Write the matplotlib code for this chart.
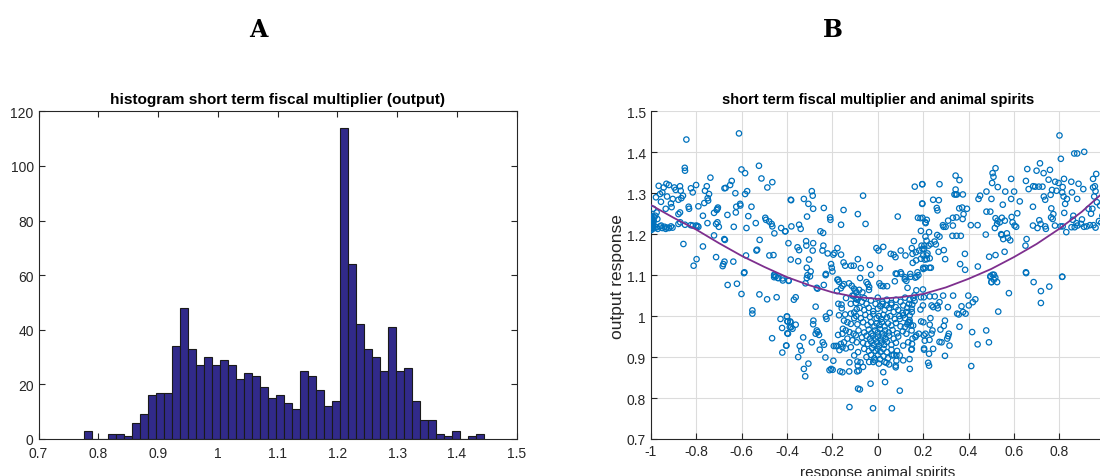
import numpy as np
import matplotlib.pyplot as plt

# histogram of the short term output multiplier (50 bins)
bin_start = 0.776
bin_width = 0.01338
counts = [3, 0, 0, 2, 2, 1, 6, 9, 16, 17, 17, 34, 48, 33, 27, 30, 27, 29, 27, 22,
          24, 23, 19, 15, 16, 13, 11, 25, 23, 18, 12, 14, 114, 64, 42, 33, 30, 25, 41, 25,
          26, 14, 7, 7, 2, 1, 3, 0, 1, 2]

# scatter: (response animal spirits, output response), read by region
pts_edge = [(-1.0, 1.210), (-1.0, 1.214), (-1.0, 1.218), (-0.998, 1.221), (-1.0, 1.224),
            (-0.997, 1.227), (-1.0, 1.230), (-0.998, 1.233), (-1.0, 1.236), (-0.996, 1.239),
            (-1.0, 1.242), (-0.998, 1.245), (-0.995, 1.212), (-0.994, 1.220), (-0.993, 1.229),
            (-0.994, 1.236), (-0.99, 1.216), (-0.99, 1.225), (-0.988, 1.232), (-0.986, 1.241),
            (-0.985, 1.215), (-0.975, 1.217), (-0.96, 1.219), (-0.95, 1.215), (-0.94, 1.218),
            (-0.93, 1.216), (-0.92, 1.215), (-0.912, 1.219), (-0.905, 1.216), (-0.97, 1.213),
            (-0.955, 1.221), (-0.935, 1.213)]
pts_left_top = [(-0.612, 1.446), (-0.844, 1.431), (-0.851, 1.362), (-0.85, 1.355), (-0.601, 1.358),
                (-0.585, 1.349), (-0.524, 1.367), (-0.738, 1.338), (-0.513, 1.336), (-0.644, 1.33),
                (-0.651, 1.32), (-0.465, 1.327), (-0.487, 1.314), (-0.966, 1.318), (-0.932, 1.323),
                (-0.921, 1.32), (-0.944, 1.314), (-0.95, 1.302), (-0.96, 1.298), (-0.897, 1.314),
                (-0.891, 1.308), (-0.872, 1.317), (-0.869, 1.306), (-0.824, 1.312), (-0.801, 1.32),
                (-0.754, 1.317), (-0.762, 1.306), (-0.676, 1.312), (-0.671, 1.313), (-0.628, 1.30),
                (-0.585, 1.298), (-0.576, 1.305), (-0.816, 1.302), (-0.978, 1.29), (-0.929, 1.292),
                (-0.956, 1.279), (-0.904, 1.286), (-0.879, 1.284), (-0.866, 1.288), (-0.859, 1.294),
                (-0.912, 1.275), (-0.909, 1.266), (-0.99, 1.262), (-0.975, 1.253), (-0.981, 1.245),
                (-0.972, 1.237), (-0.935, 1.262), (-0.879, 1.249), (-0.872, 1.253), (-0.834, 1.267),
                (-0.832, 1.262), (-0.791, 1.268), (-0.765, 1.276), (-0.75, 1.288), (-0.748, 1.282),
                (-0.744, 1.298), (-0.707, 1.262), (-0.705, 1.265), (-0.624, 1.267), (-0.607, 1.274),
                (-0.606, 1.27), (-0.557, 1.267), (-0.626, 1.253), (-0.663, 1.247), (-0.722, 1.252),
                (-0.71, 1.259), (-0.771, 1.245), (-0.751, 1.227), (-0.825, 1.222), (-0.816, 1.221),
                (-0.801, 1.221), (-0.795, 1.22), (-0.791, 1.218), (-0.85, 1.223), (-0.871, 1.229),
                (-0.879, 1.225), (-0.713, 1.225), (-0.701, 1.218), (-0.707, 1.229), (-0.635, 1.218),
                (-0.579, 1.215), (-0.571, 1.244), (-0.538, 1.227), (-0.496, 1.24), (-0.493, 1.235),
                (-0.479, 1.231), (-0.468, 1.225), (-0.465, 1.219), (-0.456, 1.202), (-0.426, 1.215),
                (-0.407, 1.207), (-0.384, 1.284), (-0.857, 1.176), (-0.722, 1.197), (-0.674, 1.186),
                (-0.677, 1.188), (-0.771, 1.17), (-0.799, 1.139), (-0.812, 1.123), (-0.713, 1.144),
                (-0.681, 1.127), (-0.676, 1.133), (-0.684, 1.122), (-0.637, 1.133), (-0.588, 1.107),
                (-0.581, 1.148), (-0.535, 1.16), (-0.532, 1.162), (-0.521, 1.186), (-0.478, 1.148),
                (-0.46, 1.149), (-0.457, 1.101), (-0.45, 1.097), (-0.438, 1.093), (-0.42, 1.092),
                (-0.394, 1.178)]
pts_mid_top = [(-0.291, 1.305), (-0.287, 1.294), (-0.382, 1.283), (-0.326, 1.286), (-0.306, 1.274),
               (-0.285, 1.262), (-0.238, 1.264), (-0.151, 1.259), (-0.065, 1.294), (-0.088, 1.249),
               (-0.312, 1.243), (-0.21, 1.241), (-0.209, 1.235), (-0.162, 1.223), (-0.054, 1.225),
               (0.088, 1.243), (0.163, 1.316), (0.196, 1.322), (0.196, 1.275), (0.188, 1.239),
               (0.177, 1.24), (0.21, 1.229), (-0.381, 1.219), (-0.347, 1.223), (-0.34, 1.213),
               (-0.409, 1.207), (-0.253, 1.207), (-0.241, 1.203), (0.19, 1.208), (0.21, 1.194),
               (-0.354, 1.168), (-0.347, 1.161), (-0.316, 1.183), (-0.315, 1.172), (-0.285, 1.178),
               (-0.287, 1.16), (-0.24, 1.172), (-0.244, 1.16), (-0.221, 1.153), (-0.196, 1.15),
               (-0.191, 1.154), (-0.178, 1.166), (-0.162, 1.15), (-0.384, 1.138), (-0.351, 1.134),
               (-0.303, 1.138), (-0.313, 1.118), (-0.296, 1.109), (-0.299, 1.097), (-0.206, 1.127),
               (-0.203, 1.118), (-0.2, 1.109), (-0.229, 1.103), (-0.144, 1.123), (-0.151, 1.131),
               (-0.118, 1.123), (-0.106, 1.123), (-0.088, 1.139), (-0.075, 1.117), (-0.035, 1.125),
               (-0.029, 1.101), (0.009, 1.117), (-0.006, 1.166), (0.024, 1.169), (0.003, 1.16),
               (0.057, 1.152), (0.07, 1.15), (0.078, 1.144), (0.101, 1.16), (0.122, 1.148),
               (0.15, 1.166), (0.153, 1.152), (0.168, 1.156), (0.182, 1.16), (0.197, 1.164),
               (0.205, 1.172), (0.216, 1.148), (0.159, 1.183), (0.154, 1.13), (0.169, 1.136),
               (0.175, 1.107), (0.19, 1.14), (0.079, 1.104), (0.101, 1.107), (0.143, 1.103),
               (0.201, 1.115), (0.12, 1.095), (-0.175, 1.089)]
pts_right_top = [(0.801, 1.441), (0.866, 1.397), (0.879, 1.397), (0.91, 1.401), (0.807, 1.384),
                 (0.715, 1.373), (0.659, 1.359), (0.70, 1.355), (0.519, 1.361), (0.506, 1.349),
                 (0.731, 1.349), (0.759, 1.357), (0.343, 1.343), (0.36, 1.332), (0.588, 1.335),
                 (0.51, 1.34), (0.653, 1.33), (0.753, 1.333), (0.782, 1.328), (0.797, 1.325),
                 (0.821, 1.335), (0.963, 1.347), (0.949, 1.335), (0.504, 1.325), (0.665, 1.31),
                 (0.685, 1.317), (0.694, 1.316), (0.726, 1.316), (0.71, 1.316), (0.853, 1.328),
                 (0.885, 1.323), (0.906, 1.31), (0.196, 1.322), (0.272, 1.322), (0.343, 1.309),
                 (0.344, 1.297), (0.338, 1.297), (0.349, 1.297), (0.375, 1.297), (0.451, 1.294),
                 (0.444, 1.286), (0.479, 1.304), (0.529, 1.315), (0.562, 1.304), (0.601, 1.304),
                 (0.588, 1.286), (0.626, 1.28), (0.732, 1.292), (0.738, 1.284), (0.762, 1.296),
                 (0.768, 1.308), (0.788, 1.306), (0.815, 1.315), (0.813, 1.302), (0.819, 1.292),
                 (0.834, 1.286), (0.826, 1.274), (0.856, 1.302), (0.879, 1.286), (0.949, 1.314),
                 (0.957, 1.317), (0.96, 1.305), (0.954, 1.292), (0.966, 1.278), (0.946, 1.262),
                 (0.929, 1.262), (0.98, 1.27), (0.244, 1.284), (0.269, 1.283), (0.196, 1.274),
                 (0.501, 1.286), (0.551, 1.272), (0.684, 1.267), (0.263, 1.258), (0.26, 1.264),
                 (0.359, 1.263), (0.372, 1.265), (0.393, 1.262), (0.378, 1.249), (0.374, 1.237),
                 (0.347, 1.241), (0.331, 1.24), (0.31, 1.233), (0.299, 1.218), (0.29, 1.218),
                 (0.479, 1.255), (0.496, 1.255), (0.519, 1.239), (0.528, 1.233), (0.538, 1.229),
                 (0.526, 1.225), (0.547, 1.24), (0.56, 1.233), (0.59, 1.242), (0.594, 1.229),
                 (0.603, 1.221), (0.61, 1.218), (0.615, 1.251), (0.569, 1.202), (0.546, 1.198),
                 (0.584, 1.185), (0.574, 1.191), (0.712, 1.234), (0.738, 1.219), (0.741, 1.213),
                 (0.765, 1.263), (0.774, 1.249), (0.764, 1.241), (0.771, 1.237), (0.781, 1.221),
                 (0.806, 1.219), (0.815, 1.219), (0.822, 1.252), (0.86, 1.235), (0.862, 1.245),
                 (0.876, 1.227), (0.88, 1.221), (0.90, 1.236), (0.896, 1.225), (0.921, 1.219),
                 (0.909, 1.218), (0.951, 1.222), (0.96, 1.216), (0.868, 1.217), (0.854, 1.217),
                 (0.831, 1.205), (0.197, 1.24), (0.216, 1.235), (0.211, 1.227), (0.287, 1.222),
                 (0.331, 1.221), (0.41, 1.222), (0.44, 1.222), (0.476, 1.199), (0.516, 1.215),
                 (0.684, 1.221), (0.704, 1.215), (0.718, 1.225), (0.226, 1.205), (0.272, 1.194),
                 (0.262, 1.198), (0.25, 1.182), (0.256, 1.175), (0.234, 1.176), (0.224, 1.172),
                 (0.215, 1.184), (0.204, 1.164), (0.193, 1.172), (0.20, 1.148), (0.219, 1.153),
                 (0.229, 1.141), (0.207, 1.138), (0.216, 1.139), (0.268, 1.157), (0.291, 1.161),
                 (0.297, 1.139), (0.329, 1.196), (0.347, 1.196), (0.366, 1.196), (0.384, 1.152),
                 (0.544, 1.2), (0.553, 1.188), (0.559, 1.157), (0.519, 1.149), (0.491, 1.145),
                 (0.651, 1.172), (0.656, 1.188), (0.363, 1.127), (0.441, 1.121), (0.385, 1.113),
                 (0.228, 1.118), (0.2, 1.118), (0.21, 1.118), (0.234, 1.118), (0.506, 1.101),
                 (0.496, 1.096), (0.518, 1.094), (0.653, 1.107), (0.813, 1.096), (0.985, 1.228),
                 (0.99, 1.245), (0.975, 1.232), (0.94, 1.25), (0.935, 1.222)]
pts_left_low = [(-0.59, 1.105), (-0.662, 1.076), (-0.621, 1.079), (-0.601, 1.054), (-0.522, 1.053),
                (-0.488, 1.041), (-0.446, 1.046), (-0.553, 1.014), (-0.553, 1.006), (-0.456, 1.099),
                (-0.457, 1.095), (-0.441, 1.093), (-0.419, 1.087), (-0.393, 1.087), (-0.429, 0.993),
                (-0.401, 0.999), (-0.399, 0.987), (-0.386, 0.987), (-0.422, 0.971), (-0.382, 0.973),
                (-0.399, 0.958), (-0.466, 0.946), (-0.403, 0.928), (-0.421, 0.911)]
pts_center_left = [(-0.393, 1.086), (-0.31, 1.1), (-0.313, 1.093), (-0.319, 1.08), (-0.269, 1.069),
                   (-0.266, 1.067), (-0.238, 1.076), (-0.23, 1.1), (-0.178, 1.089), (-0.171, 1.084),
                   (-0.362, 1.046), (-0.37, 1.04), (-0.274, 1.023), (-0.4, 0.999), (-0.397, 0.987),
                   (-0.385, 0.985), (-0.388, 0.973), (-0.376, 0.969), (-0.362, 0.979), (-0.396, 0.957),
                   (-0.229, 0.999), (-0.226, 0.993), (-0.212, 1.008), (-0.284, 0.989), (-0.285, 0.98),
                   (-0.269, 0.965), (-0.274, 0.957), (-0.259, 0.954), (-0.265, 0.961), (-0.329, 0.948),
                   (-0.291, 0.936), (-0.243, 0.936), (-0.237, 0.93), (-0.256, 0.918), (-0.404, 0.928),
                   (-0.344, 0.927), (-0.337, 0.916), (-0.351, 0.9), (-0.306, 0.884), (-0.326, 0.871),
                   (-0.32, 0.853), (-0.231, 0.899), (-0.196, 0.891), (-0.213, 0.868), (-0.199, 0.869),
                   (-0.206, 0.871), (-0.166, 0.865), (-0.156, 0.863), (-0.126, 0.865), (-0.091, 0.865),
                   (-0.194, 0.927), (-0.185, 0.927), (-0.178, 0.927), (-0.169, 0.917), (-0.141, 0.921),
                   (-0.171, 1.002), (-0.174, 1.03), (-0.16, 1.028), (-0.18, 1.061), (-0.163, 1.068),
                   (-0.156, 1.074), (-0.149, 1.078), (-0.127, 1.08), (-0.115, 1.074), (-0.099, 1.062),
                   (-0.112, 1.05), (-0.14, 1.044), (-0.119, 1.03), (-0.097, 1.032), (-0.097, 1.042),
                   (-0.104, 1.009), (-0.093, 1.017), (-0.159, 1.019), (-0.144, 1.004), (-0.119, 1.006),
                   (-0.104, 0.995), (-0.149, 0.989), (-0.134, 0.985), (-0.119, 0.981), (-0.154, 0.969),
                   (-0.141, 0.965), (-0.125, 0.961), (-0.107, 0.957), (-0.097, 0.953), (-0.156, 0.957),
                   (-0.134, 0.945), (-0.112, 0.941), (-0.093, 0.936), (-0.175, 0.954), (-0.149, 0.936),
                   (-0.163, 0.932), (-0.156, 0.924), (-0.119, 0.924), (-0.125, 0.887), (-0.09, 0.889),
                   (-0.087, 0.912), (-0.104, 0.904), (-0.125, 0.778), (-0.087, 0.823)]
pts_center = [(-0.078, 1.093), (-0.05, 1.083), (-0.044, 1.078), (-0.038, 1.071), (-0.039, 1.064),
              (0.007, 1.08), (0.013, 1.074), (0.024, 1.073), (0.041, 1.073), (0.075, 1.085),
              (0.084, 1.103), (0.104, 1.103), (0.119, 1.09), (0.126, 1.086), (0.131, 1.069),
              (0.145, 1.096), (-0.082, 1.064), (-0.068, 1.058), (-0.095, 1.058), (-0.105, 1.067),
              (-0.106, 1.05), (-0.087, 1.046), (-0.06, 1.044), (0.021, 1.03), (0.038, 1.026),
              (0.06, 1.028), (0.079, 1.022), (0.112, 1.026), (0.138, 1.03), (0.149, 1.018),
              (0.126, 1.01), (0.141, 1.002), (0.112, 1.002), (0.097, 0.993), (0.134, 0.985),
              (0.156, 0.977), (0.119, 0.973), (0.149, 0.965), (0.126, 0.957), (0.153, 0.945),
              (0.134, 0.936), (0.112, 0.928), (0.15, 0.92), (0.097, 0.904), (0.082, 0.891),
              (0.079, 0.879), (0.112, 0.892), (0.079, 0.875), (0.024, 0.863), (0.032, 0.839),
              (0.097, 0.818), (-0.032, 0.835), (-0.079, 0.821), (-0.021, 0.775), (0.062, 0.775),
              (-0.084, 0.867), (-0.088, 0.879), (-0.076, 0.887), (-0.065, 0.876), (-0.038, 0.888),
              (-0.012, 0.892), (0.038, 0.886), (0.063, 0.904), (0.082, 0.904),
              (-0.09, 1.04), (-0.07, 1.035), (-0.05, 1.03), (-0.03, 1.038), (-0.01, 1.03),
              (0.0, 1.045), (0.01, 1.025), (0.02, 1.035), (0.04, 1.04), (0.06, 1.032),
              (0.08, 1.04), (0.1, 1.035), (0.12, 1.045), (0.14, 1.04), (-0.08, 1.02),
              (-0.06, 1.015), (-0.04, 1.02), (-0.02, 1.012), (0.0, 1.018), (0.03, 1.015),
              (0.05, 1.02), (0.07, 1.01), (0.09, 1.015), (0.11, 1.008), (0.13, 1.02),
              (0.15, 1.01), (-0.095, 1.0), (-0.075, 0.995), (-0.055, 1.003), (-0.035, 0.998),
              (-0.02, 1.005), (-0.005, 0.995), (0.005, 1.0), (0.015, 0.993), (0.025, 1.003),
              (0.04, 0.997), (0.055, 1.0), (0.075, 0.993), (0.095, 1.0), (0.12, 0.995),
              (0.14, 0.99), (-0.09, 0.98), (-0.065, 0.985), (-0.045, 0.978), (-0.03, 0.985),
              (-0.015, 0.975), (-0.005, 0.982), (0.008, 0.978), (0.018, 0.985), (0.03, 0.975),
              (0.045, 0.982), (0.06, 0.977), (0.08, 0.983), (0.1, 0.975), (0.13, 0.98),
              (-0.085, 0.965), (-0.06, 0.96), (-0.04, 0.967), (-0.028, 0.958), (-0.012, 0.965),
              (0.0, 0.96), (0.01, 0.968), (0.02, 0.958), (0.032, 0.965), (0.048, 0.96),
              (0.065, 0.966), (0.085, 0.958), (0.11, 0.963), (-0.07, 0.948), (-0.05, 0.952),
              (-0.035, 0.945), (-0.022, 0.952), (-0.01, 0.945), (0.0, 0.95), (0.012, 0.943),
              (0.022, 0.95), (0.035, 0.945), (0.05, 0.952), (0.07, 0.945), (0.09, 0.95),
              (-0.065, 0.935), (-0.045, 0.932), (-0.03, 0.938), (-0.018, 0.93), (-0.005, 0.936),
              (0.005, 0.928), (0.015, 0.935), (0.028, 0.93), (0.04, 0.937), (0.06, 0.93),
              (0.08, 0.935), (-0.06, 0.92), (-0.04, 0.915), (-0.025, 0.922), (-0.01, 0.915),
              (0.0, 0.92), (0.012, 0.913), (0.025, 0.92), (0.04, 0.912), (0.06, 0.918),
              (0.085, 0.915), (-0.05, 0.9), (-0.03, 0.905), (-0.015, 0.897), (0.0, 0.905),
              (0.01, 0.895), (0.025, 0.902), (0.045, 0.897), (0.07, 0.905), (-0.02, 0.888),
              (0.005, 0.884), (0.03, 0.888), (0.05, 0.882)]
pts_right_low = [(0.179, 1.1), (0.171, 1.096), (0.165, 1.094), (0.501, 1.083), (0.199, 1.065),
                 (0.17, 1.063), (0.162, 1.051), (0.157, 1.044), (0.162, 1.037), (0.152, 1.028),
                 (0.19, 1.046), (0.203, 1.046), (0.229, 1.048), (0.251, 1.048), (0.288, 1.05),
                 (0.332, 1.05), (0.399, 1.05), (0.43, 1.041), (0.419, 1.034), (0.401, 1.026),
                 (0.369, 1.024), (0.376, 1.01), (0.387, 1.006), (0.35, 1.006), (0.357, 1.004),
                 (0.272, 1.034), (0.262, 1.026), (0.265, 1.019), (0.237, 1.026), (0.244, 1.022),
                 (0.199, 1.026), (0.188, 1.016), (0.309, 1.022), (0.232, 0.995), (0.191, 0.987),
                 (0.201, 0.985), (0.14, 0.985), (0.146, 0.977), (0.229, 0.979), (0.241, 0.965),
                 (0.237, 0.957), (0.21, 0.957), (0.181, 0.957), (0.166, 0.949), (0.203, 0.953),
                 (0.169, 0.953), (0.296, 0.989), (0.291, 0.976), (0.276, 0.967), (0.313, 0.957),
                 (0.31, 0.951), (0.306, 0.945), (0.281, 0.936), (0.272, 0.937), (0.316, 0.928),
                 (0.207, 0.94), (0.228, 0.942), (0.204, 0.921), (0.204, 0.918), (0.244, 0.92),
                 (0.151, 0.932), (0.148, 0.918), (0.226, 0.908), (0.222, 0.886), (0.226, 0.879),
                 (0.296, 0.903), (0.36, 0.974), (0.416, 0.961), (0.478, 0.965), (0.49, 0.936),
                 (0.44, 0.931), (0.412, 0.878), (0.141, 0.871), (0.14, 0.895),
                 (0.497, 1.098), (0.512, 1.101), (0.501, 1.083), (0.512, 1.089), (0.526, 1.083),
                 (0.654, 1.105), (0.687, 1.083), (0.719, 1.061), (0.756, 1.072), (0.719, 1.032),
                 (0.813, 1.096), (0.578, 1.056), (0.531, 1.011)]

# quadratic fit drawn in the chart, read at 0.1 steps
fit_x = [-1.0, -0.9, -0.8, -0.7, -0.6, -0.5, -0.4, -0.3, -0.2, -0.1, 0.0,
         0.1, 0.2, 0.3, 0.4, 0.5, 0.6, 0.7, 0.8, 0.9, 1.0]
fit_y = [1.271, 1.240, 1.211, 1.178, 1.147, 1.120, 1.095, 1.075, 1.058, 1.047, 1.042,
         1.046, 1.054, 1.070, 1.091, 1.115, 1.144, 1.176, 1.213, 1.255, 1.305]

all_pts = (pts_edge + pts_left_top + pts_mid_top + pts_right_top + pts_left_low
           + pts_center_left + pts_center + pts_right_low)
sx = [p[0] for p in all_pts]
sy = [p[1] for p in all_pts]

plt.rcParams['font.family'] = ['Liberation Sans', 'DejaVu Sans']
axis_col = '#262626'

fig = plt.figure(figsize=(11, 4.77), dpi=100)

# ---- panel A: histogram
ax1 = fig.add_axes([0.035, 0.0776, 0.4347, 0.687])
edges = bin_start + bin_width * np.arange(len(counts))
ax1.bar(edges, counts, width=bin_width, align='edge', color='#312a8a',
        edgecolor='#1a1a1a', linewidth=0.8, zorder=2)
ax1.set_xlim(0.7, 1.5)
ax1.set_ylim(0, 120)
ax1.set_xticks(np.arange(0.7, 1.51, 0.1))
ax1.set_xticklabels(['0.7', '0.8', '0.9', '1', '1.1', '1.2', '1.3', '1.4', '1.5'])
ax1.set_yticks(range(0, 121, 20))
ax1.tick_params(direction='in', top=True, right=True, length=4, labelsize=10,
                colors=axis_col, width=0.8)
ax1.tick_params(axis='x', pad=5)
for s in ax1.spines.values():
    s.set_color(axis_col)
    s.set_linewidth(0.8)
ax1.set_title('histogram short term fiscal multiplier (output)', fontsize=11.1,
              fontweight='bold', pad=6)

# ---- panel B: scatter with fit
ax2 = fig.add_axes([0.5918, 0.0776, 0.4124, 0.687])
ax2.scatter(sx, sy, s=15, facecolors='none', edgecolors='#0072bd', linewidths=0.9, zorder=3)
ax2.plot(fit_x, fit_y, color='#7e2f8e', linewidth=1.3, zorder=4)
ax2.set_xlim(-1, 1)
ax2.set_ylim(0.7, 1.5)
ax2.set_xticks(np.arange(-1, 0.81, 0.2))
ax2.set_xticklabels(['-1', '-0.8', '-0.6', '-0.4', '-0.2', '0', '0.2', '0.4', '0.6', '0.8'])
ax2.set_yticks(np.arange(0.7, 1.51, 0.1))
ax2.set_yticklabels(['0.7', '0.8', '0.9', '1', '1.1', '1.2', '1.3', '1.4', '1.5'])
ax2.grid(True, color='#dcdcdc', linewidth=0.8, zorder=0)
ax2.set_axisbelow(True)
ax2.spines['top'].set_visible(False)
ax2.spines['right'].set_visible(False)
for s in ('left', 'bottom'):
    ax2.spines[s].set_color(axis_col)
    ax2.spines[s].set_linewidth(0.8)
ax2.tick_params(direction='in', length=4, labelsize=10, colors=axis_col, width=0.8)
ax2.set_title('short term fiscal multiplier and animal spirits', fontsize=10.5,
              fontweight='bold', pad=6)
ax2.set_xlabel('response animal spirits', fontsize=11, color=axis_col, labelpad=5)
ax2.set_ylabel('output response', fontsize=12.5, color=axis_col, labelpad=1)

# panel letters
fig.text(0.2345, 0.937, 'A', fontsize=17, fontweight='bold', family='DejaVu Serif',
         ha='center', va='center')
fig.text(0.757, 0.937, 'B', fontsize=17, fontweight='bold', family='DejaVu Serif',
         ha='center', va='center')

fig.savefig('out.png', dpi=100)
